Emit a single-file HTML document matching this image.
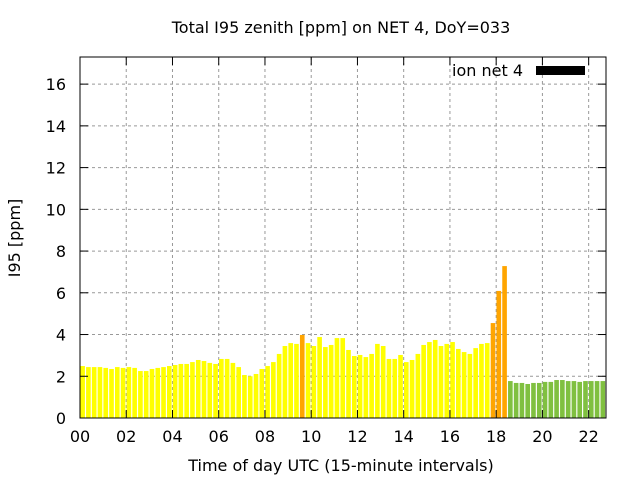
<!DOCTYPE html>
<html><head><meta charset="utf-8"><style>
body{margin:0;background:#fff}
svg text{font-family:"DejaVu Sans","Liberation Sans",sans-serif;fill:#000}
</style></head><body>
<svg id="c" width="640" height="480" xmlns="http://www.w3.org/2000/svg">
<rect width="640" height="480" fill="#fff"/>
<text x="341" y="33" font-size="16" text-anchor="middle">Total I95 zenith [ppm] on NET 4, DoY=033</text>
<text x="341" y="471" font-size="16" text-anchor="middle">Time of day UTC (15-minute intervals)</text>
<text transform="translate(20,238) rotate(-90)" font-size="16" text-anchor="middle">I95 [ppm]</text>
<g id="grid"></g><g id="bars"></g><g id="axes"></g>
<g>
<text x="523" y="76" font-size="16" text-anchor="end">ion net 4</text>
<rect x="536" y="66" width="49" height="9" fill="#000"/>
</g>
</svg>
<script>
const values=[2.49,2.44,2.44,2.44,2.40,2.35,2.44,2.40,2.44,2.40,2.25,2.25,2.35,2.40,2.44,2.49,2.54,2.59,2.59,2.68,2.78,2.73,2.64,2.59,2.83,2.83,2.64,2.44,2.06,2.0,2.11,2.35,2.49,2.68,3.07,3.45,3.59,3.55,3.98,3.59,3.45,3.88,3.40,3.50,3.83,3.83,
3.26,2.97,3.02,2.92,3.07,3.55,3.45,2.83,2.83,3.02,2.68,2.78,3.07,3.50,3.64,3.74,3.45,3.55,3.64,3.31,3.16,3.07,3.35,3.55,3.59,4.55,6.09,7.28,
1.77,1.68,1.68,1.63,1.68,1.68,1.73,1.73,1.82,1.82,1.77,1.77,1.73,1.77,1.77,1.77,1.77];
const levels=values.map((v,i)=>i>=74?'g':(i===38||(i>=71&&i<=73))?'o':'y');
const yTicks=[0,2,4,6,8,10,12,14,16];
const xTickLabels=['00','02','04','06','08','10','12','14','16','18','20','22'];
const L=80,R=606,T=57,B=418,YMAX=17.3,XMAX=22.75;
const xs=h=>L+(h/XMAX)*(R-L);
const ys=v=>B-(v/YMAX)*(B-T);
const NS='http://www.w3.org/2000/svg';
function mk(t,a,p){const e=document.createElementNS(NS,t);for(const k in a)e.setAttribute(k,a[k]);p.appendChild(e);return e;}
const grid=document.getElementById('grid'),bars=document.getElementById('bars'),axes=document.getElementById('axes');
const col={y:'#ffff00',o:'#ffa500',g:'#80c040'};
yTicks.forEach(v=>{const y=ys(v);
 if(v>0){const g=mk('line',{x1:L,x2:R,y1:y,y2:y,stroke:'#999','stroke-dasharray':'3,3'},grid);
 
 }
 mk('line',{x1:L,x2:L+8,y1:y,y2:y,stroke:'#000'},axes);
 mk('line',{x1:R,x2:R-8,y1:y,y2:y,stroke:'#000'},axes);
 const t=mk('text',{x:L-14,y:y+6,'font-size':16,'text-anchor':'end'},axes);t.textContent=v;
 
 
});
xTickLabels.forEach((lab,i)=>{const x=xs(i*2);
 if(i>0){const g=mk('line',{x1:x,x2:x,y1:T,y2:B,stroke:'#999','stroke-dasharray':'3,3'},grid);
 
 }
 mk('line',{x1:x,x2:x,y1:B,y2:B-8,stroke:'#000'},axes);
 mk('line',{x1:x,x2:x,y1:T,y2:T+8,stroke:'#000'},axes);
 const t=mk('text',{x:x,y:B+24,'font-size':16,'text-anchor':'middle'},axes);t.textContent=lab;
 
 
});
const w=(xs(0.25)-xs(0))*0.8;
values.forEach((v,i)=>{const x=xs(i*0.25);
 const r=mk('rect',{x:x+0.3,y:ys(v),width:w,height:B-ys(v),fill:col[levels[i]]},bars);
 
 
});
const f=mk('rect',{x:L,y:T,width:R-L,height:B-T,fill:'none',stroke:'#000','stroke-width':1},axes);


</script>
</body></html>
